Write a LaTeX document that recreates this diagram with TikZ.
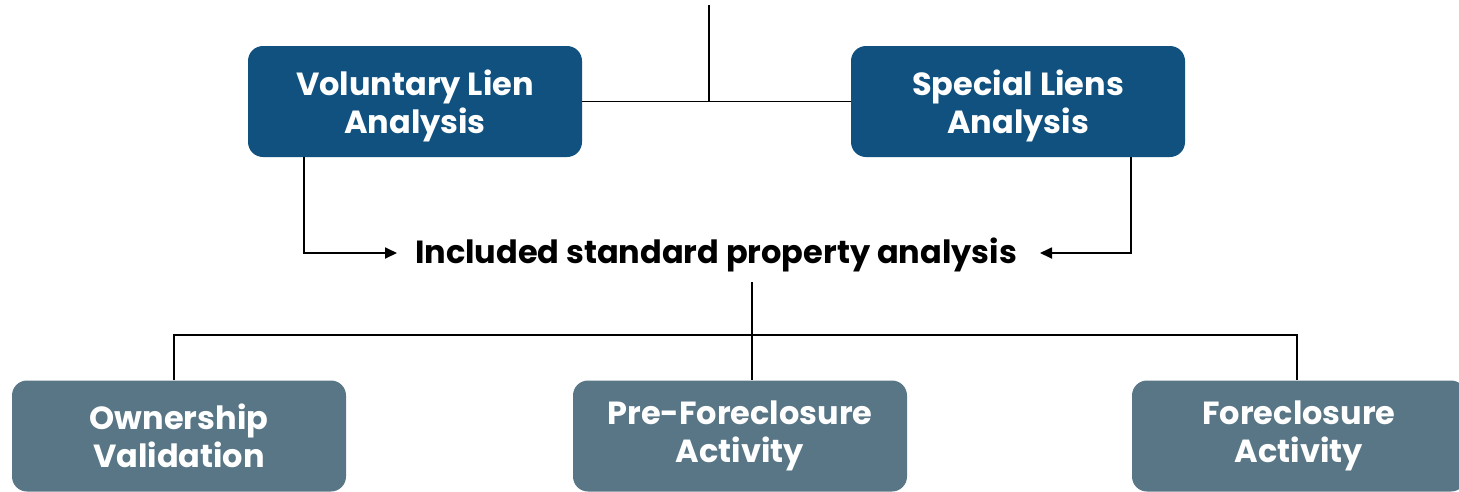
\documentclass[tikz,border=0pt]{standalone}
\usepackage{fontspec}
\setmainfont{Poppins}[BoldFont={* Bold}]
\usetikzlibrary{arrows.meta}
\definecolor{topblue}{HTML}{10517F}
\definecolor{slate}{HTML}{587685}
\begin{document}
\begin{tikzpicture}[x=1pt,y=-1pt,
  topbox/.style={fill=topblue,rounded corners=15pt,minimum width=334pt,minimum height=111pt,
    text=white,font=\fontsize{32}{38.5}\selectfont\bfseries,align=center,inner sep=0pt},
  botbox/.style={topbox,fill=slate},
  conn/.style={draw=black,line width=1.1pt},
  arr/.style={draw=black,line width=1.8pt,-{Triangle[length=12pt,width=11pt]}}]
\useasboundingbox (0,0) rectangle (1459,491);
\begin{scope}
\clip (0,0) rectangle (1459,491);
\node[topbox,text depth=0pt] (vol) at (415,101.5) {Voluntary Lien\\Analysis};
\node[topbox,text depth=0pt] (spec) at (1018,101.5) {Special Liens\\Analysis};
\node[font=\fontsize{32}{38}\selectfont\bfseries,inner sep=0pt] (inc) at (716,255) {Included standard property analysis};
\node[botbox] (own) at (179,436) {Ownership\\Validation};
\node[botbox] (pre) at (740,436) {Pre-Foreclosure\\Activity};
\node[botbox] (fore) at (1299,436) {Foreclosure\\Activity};
\coordinate (topin) at (709,5);
\coordinate (bus) at (752,335);
\coordinate (incbot) at (752,282);
\coordinate (larr) at (397,253);
\coordinate (rarr) at (1040,253);
\end{scope}
\draw[conn] (topin) -- (709,101.5);
\draw[conn] (vol.east) -- (spec.west);
\draw[arr] (304,157) |- (larr);
\draw[arr] (1131,157) |- (rarr);
\draw[conn] (incbot) -- (pre.north -| incbot);
\draw[conn] (own.north -| 174,0) |- (bus) -| (fore.north -| 1297,0);
\end{tikzpicture}
\end{document}
